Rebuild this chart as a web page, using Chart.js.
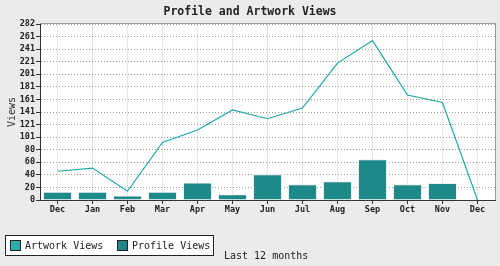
<!DOCTYPE html>
<html>
<head>
<meta charset="utf-8">
<script src="https://cdn.jsdelivr.net/npm/chart.js@4"></script>
<style>
html, body { margin: 0; padding: 0; background: #ebebeb; }
</style>
</head>
<body>
<canvas id="chartViews" width="500" height="266"></canvas>
<script>
// Data
var months = ['Dec', 'Jan', 'Feb', 'Mar', 'Apr', 'May', 'Jun', 'Jul', 'Aug', 'Sep', 'Oct', 'Nov', 'Dec'];
var artworkViews = [46, 51, 14, 92, 112, 144, 130, 147, 219, 255, 168, 156, 0];
var profileViews = [13, 13, 7, 13, 28, 9, 41, 25, 30, 65, 25, 27, 0];
var yTickLabels = [0, 20, 40, 60, 80, 101, 121, 141, 161, 181, 201, 221, 241, 261, 282];
var yMax = 281.5;

var lineColor = '#1fa8a8';
var barColor = '#1e8989';
var mono = '"DejaVu Sans Mono", monospace';

// Plot frame, title, legend box and footer text
var decorations = {
    id: 'decorations',
    beforeDraw: function (chart) {
        var ctx = chart.ctx, a = chart.chartArea;
        ctx.save();
        ctx.fillStyle = '#ffffff';
        ctx.fillRect(a.left, a.top, a.right - a.left, a.bottom - a.top);
        ctx.restore();
    },
    afterDraw: function (chart) {
        var ctx = chart.ctx, a = chart.chartArea;
        ctx.save();
        ctx.strokeStyle = '#9a9a9a';
        ctx.lineWidth = 1;
        ctx.beginPath();
        ctx.moveTo(a.left, a.top - 0.5);
        ctx.lineTo(a.right + 0.5, a.top - 0.5);
        ctx.lineTo(a.right + 0.5, a.bottom);
        ctx.stroke();

        ctx.fillStyle = '#222';
        ctx.font = 'bold 11.5px ' + mono;
        ctx.textAlign = 'center';
        ctx.textBaseline = 'middle';
        ctx.fillText('Profile and Artwork Views', 250, 12);

        // legend
        ctx.fillStyle = '#ffffff';
        ctx.fillRect(5.5, 235.5, 208, 20);
        ctx.strokeStyle = '#222';
        ctx.strokeRect(5.5, 235.5, 208, 20);
        var items = [['Artwork Views', '#2aadad', 10.5, 25], ['Profile Views', barColor, 117.5, 132]];
        ctx.font = '10px ' + mono;
        ctx.textAlign = 'left';
        items.forEach(function (it) {
            ctx.fillStyle = it[1];
            ctx.fillRect(it[2], 240.5, 10, 10);
            ctx.strokeRect(it[2], 240.5, 10, 10);
            ctx.fillStyle = '#222';
            ctx.fillText(it[0], it[3], 246);
        });
        ctx.fillText('Last 12 months', 224, 256);
        ctx.restore();
    }
};

var data = {
    labels: months,
    datasets: [{
        type: 'line',
        label: 'Artwork Views',
        data: artworkViews,
        borderColor: lineColor,
        backgroundColor: lineColor,
        borderWidth: 1.2,
        pointRadius: 0,
        tension: 0,
        order: 0
    }, {
        type: 'bar',
        label: 'Profile Views',
        data: profileViews,
        backgroundColor: barColor,
        borderColor: '#eeeeee',
        borderWidth: 1,
        barPercentage: 0.9,
        categoryPercentage: 0.92,
        order: 1
    }]
};

var options = {
    responsive: false,
    animation: false,
    devicePixelRatio: 1,
    layout: { padding: { top: 24, right: 5, left: 0, bottom: 0 } },
    plugins: {
        legend: { display: false },
        title: { display: false },
        tooltip: { enabled: false }
    },
    scales: {
        x: {
            offset: true,
            afterFit: function (s) { s.height = 66; },
            grid: { offset: false, color: '#e6e6e6', tickColor: '#333', tickLength: 4 },
            border: { color: '#333', width: 1 },
            ticks: { color: '#222', font: { family: mono, size: 8.5, weight: 'bold' }, padding: 1, maxRotation: 0 }
        },
        y: {
            min: 0,
            max: yMax,
            afterFit: function (s) { s.width = 40; },
            afterBuildTicks: function (s) {
                s.ticks = yTickLabels.map(function (l, i) { return { value: i * yMax / (yTickLabels.length - 1) }; });
            },
            grid: { color: '#9a9a9a', tickColor: '#333', tickLength: 4, tickBorderDash: [] },
            border: { color: '#333', width: 1, dash: [1, 2] },
            ticks: {
                color: '#222',
                font: { family: mono, size: 8.5, weight: 'bold' },
                padding: 1,
                autoSkip: false,
                callback: function (v, i) { return yTickLabels[i]; }
            },
            title: {
                display: true,
                text: 'Views',
                color: '#333',
                font: { family: mono, size: 10 },
                padding: { top: 6, bottom: 0 }
            }
        }
    }
};

var ctx = document.getElementById('chartViews').getContext('2d');
var viewsChart = new Chart(ctx, {
    type: 'bar',
    data: data,
    options: options,
    plugins: [decorations]
});
</script>
</body>
</html>
